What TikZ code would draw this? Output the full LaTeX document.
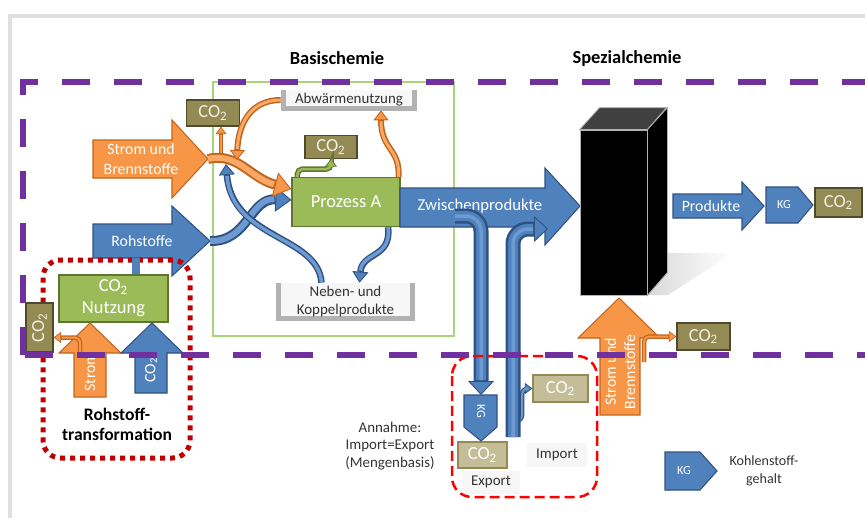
\documentclass[tikz,border=0pt]{standalone}
\usepackage{fontspec}
\setmainfont{Carlito}
\usetikzlibrary{calc,arrows.meta}
\definecolor{cpurple}{HTML}{7030A0}
\definecolor{corange}{HTML}{F79646}
\definecolor{corangeline}{HTML}{C2651C}
\definecolor{corangelight}{HTML}{FAA865}
\definecolor{cblue}{HTML}{4F81BD}
\definecolor{cblueline}{HTML}{2F5282}
\definecolor{cbluelight}{HTML}{6E9AD2}
\definecolor{cgreen}{HTML}{9BBB59}
\definecolor{cgreenline}{HTML}{5F7530}
\definecolor{colive}{HTML}{948A54}
\definecolor{coliveline}{HTML}{4F4A2B}
\definecolor{colivetext}{HTML}{F2F0E4}
\definecolor{cpale}{HTML}{C4BD97}
\definecolor{cframe}{HTML}{A9D47C}
\definecolor{cred}{HTML}{FF0000}
\definecolor{cdred}{HTML}{C00000}
\tikzset{
	lbl/.style={text=white, align=center, inner sep=0pt, font=\fontsize{9}{11}\selectfont},
	note/.style={text=black!80, align=center, inner sep=0pt, font=\fontsize{8.5}{10}\selectfont},
	head/.style={text=black, align=center, inner sep=0pt, font=\bfseries\fontsize{10.5}{12}\selectfont},
	kglbl/.style={text=white, inner sep=0pt, font=\fontsize{7}{8}\selectfont},
	co2box/.style={draw=coliveline, fill=colive, line width=0.7pt, text=colivetext, inner sep=0pt, font=\fontsize{10.5}{12}\selectfont},
	co2pale/.style={co2box, draw=colive, fill=cpale, text=white},
	procbox/.style={draw=cgreenline, fill=cgreen, line width=0.7pt, text=white, align=center, inner sep=0pt, font=\fontsize{10.5}{12.5}\selectfont},
	infobox/.style={fill=gray!7, text=black!80, inner sep=0pt, font=\fontsize{8.5}{10}\selectfont},
	tray/.style={fill=gray!6, text=black!80, align=center, inner sep=0pt, font=\fontsize{8.5}{9.8}\selectfont,
		path picture={\draw[gray!60, line width=0.18cm] (path picture bounding box.north west) |- (path picture bounding box.south east) -- (path picture bounding box.north east);}},
	oarrow/.style={draw=corangeline, fill=corange, line width=0.6pt},
	barrow/.style={draw=cblueline, fill=cblue, line width=0.6pt},
	btube/.style={draw=cblueline, line width=0.2cm, -{Triangle[width=0.5cm,length=0.32cm,line width'=0.5pt,fill=cblue]},
		postaction={draw=cbluelight, line width=0.12cm, shorten >=0.34cm, -}},
	bthin/.style={draw=cblueline, line width=0.13cm, -{Triangle[width=0.32cm,length=0.22cm,line width'=0.5pt,fill=cblue]},
		postaction={draw=cbluelight, line width=0.07cm, shorten >=0.24cm, -}},
	btiny/.style={draw=cblueline, line width=0.09cm, -{Triangle[width=0.22cm,length=0.15cm,line width'=0.4pt,fill=cblue]},
		postaction={draw=cbluelight, line width=0.04cm, shorten >=0.16cm, -}},
	bigtube/.style={draw=cblueline, line width=0.3cm, -{Triangle[width=0.52cm,length=0.28cm,line width'=0.5pt,fill=cblue]},
		postaction={draw=cblue, line width=0.2cm, shorten >=0.3cm, -}, postaction={draw=cbluelight, line width=0.07cm, shorten >=0.3cm, -}},
	otube/.style={draw=corangeline, line width=0.2cm, -{Triangle[width=0.5cm,length=0.34cm,line width'=0.5pt,fill=corange]},
		postaction={draw=corangelight, line width=0.12cm, shorten >=0.36cm, -}},
	othin/.style={draw=corangeline, line width=0.12cm, -{Triangle[width=0.3cm,length=0.2cm,line width'=0.5pt,fill=corange]},
		postaction={draw=corangelight, line width=0.06cm, shorten >=0.22cm, -}},
	otiny/.style={draw=corangeline, line width=0.09cm, -{Triangle[width=0.22cm,length=0.15cm,line width'=0.4pt,fill=corange]},
		postaction={draw=corange, line width=0.04cm, shorten >=0.16cm, -}},
	gtiny/.style={draw=cgreenline, line width=0.11cm, -{Triangle[width=0.24cm,length=0.15cm,line width'=0.4pt,fill=cgreen]},
		postaction={draw=cgreen, line width=0.05cm, shorten >=0.16cm, -}},
	stub/.style={draw=cblue, line width=0.16cm},
	purpledash/.style={line width=0.12cm, color=cpurple, dash pattern=on 0.56cm off 0.48cm}
}

\begin{document}
\begin{tikzpicture}[x=0.02cm, y=-0.02cm]
			%%%%% START %%%%%
			\useasboundingbox (0,0) rectangle (865,518);
			\draw[line width=0.08cm, color=black!12] (10,518) -- (10,16) -- (865,16);
			
			\node[head] (basis) at (337,58) {Basischemie};
			\node[head] (spezial) at (627,58) {Spezialchemie};
			
			%%%%% BASISCHEMIE %%%%%
			\draw[line width=0.05cm, color=cframe] (213,82) rectangle (454,336);
			
			\node[tray, minimum width=2.72cm, minimum height=0.4cm] (abw) at (349,100) {Abwärmenutzung};
			\node[tray, minimum width=2.78cm, minimum height=0.74cm] (neben) at (345.5,301.5) {Neben- und\\Koppelprodukte};
			\node[co2box, minimum width=1.06cm, minimum height=0.52cm] (co2a) at (213,113) {CO\textsubscript{2}};
			\node[co2box, minimum width=1.04cm, minimum height=0.46cm] (co2p) at (331,147) {CO\textsubscript{2}};
			\node[procbox, minimum width=2.16cm, minimum height=0.98cm] (proz) at (346,202) {Prozess A};
			
			\draw[oarrow] (93,140) -- (172,140) -- (172,120) -- (208,159) -- (172,198) -- (172,178) -- (93,178) -- cycle;
			\coordinate (stromtip) at (208,159);
			\node[lbl] (strom) at (141,159) {Strom und\\Brennstoffe};
			
			\draw[barrow] (93,224) -- (172,224) -- (172,206) -- (210,241) -- (172,276) -- (172,258) -- (93,258) -- cycle;
			\coordinate (rohtip) at (210,241);
			\node[lbl] (roh) at (142,241) {Rohstoffe};
			
			\draw[otiny] ($(co2a.south)+(8,26)$) -- ($(co2a.south)+(8,0)$);
			\draw[btube] (rohtip) .. controls (248,242) and (250,198) .. ($(proz.west)+(0,-2)$);
			\draw[otube] (stromtip) .. controls (238,152) and (250,178) .. ($(proz.west)+(0,-13)$);
			\draw[othin] (abw.west) .. controls (248,100) and (238,128) .. (237,160);
			\draw[bthin] ($(neben.north)+(-24,0)$) .. controls (318,235) and (232,240) .. (226,164);
			\draw[bthin] ($(proz.south)+(42,0)$) .. controls (392,258) and (362,252) .. ($(neben.north)+(14,0)$);
			\draw[othin] ($(proz.north east)+(-2,0)$) .. controls (400,148) and (381,150) .. ($(abw.south)+(32,0)$);
			\draw[gtiny, rounded corners=0.1cm] ($(proz.north west)+(6,0)$) |- ($(co2p.south)+(0,10)$) -- (co2p.south);
			
			%%%%% ZWISCHENPRODUKTE %%%%%
			\draw[barrow] (400,188) -- (545,188) -- (545,168) -- (580,206) -- (545,245) -- (545,227) -- (400,227) -- cycle;
			\node[lbl, font=\fontsize{9.5}{11}\selectfont] (zwi) at (480,206) {Zwischenprodukte};
			
			\node[co2pale, minimum width=1.1cm, minimum height=0.54cm] (co2i) at (560.5,388.5) {CO\textsubscript{2}};
			\node[co2pale, minimum width=0.98cm, minimum height=0.52cm] (co2e) at (482.5,455) {CO\textsubscript{2}};
			\node[infobox, minimum width=1.14cm, minimum height=0.46cm] (export) at (491,482) {Export};
			\node[infobox, minimum width=1.2cm, minimum height=0.48cm] (import) at (557,455) {Import};
			
			\coordinate (kgtop) at (481,395);
			\coordinate (zwiout) at (455,216);
			\coordinate (impfoot) at (513,437);
			\coordinate (zwiin) at (548,229);
			\draw[bigtube, rounded corners=0.3cm] (zwiout) -| (kgtop);
			\draw[btiny, rounded corners=0.12cm] (514,421) -- (522,421) |- (co2i.west);
			\draw[bigtube, rounded corners=0.3cm] (impfoot) |- (zwiin);
			
			\draw[barrow] (464,395) -- (497,395) -- (497,427) -- (481,441) -- (464,427) -- cycle;
			\node[kglbl, rotate=-90] (kg2) at (481,411) {KG};
			
			\draw[line width=0.05cm, color=cred, dash pattern=on 0.2cm off 0.1cm, rounded corners=0.4cm] (452,356) rectangle (597,497);
			\node[note] (annahme) at (390,446) {Annahme:\\Import=Export\\(Mengenbasis)};
			
			%%%%% SPEZIALCHEMIE %%%%%
			\shade[left color=gray!30, right color=white] (647,295) -- (667,253) -- (733,253) -- (668,295) -- cycle;
			\node[draw=gray!60, fill=black, line width=0.5pt, minimum width=1.34cm, minimum height=3.3cm, inner sep=0pt] (spez) at (613.5,212.5) {};
			\filldraw[fill=black!75, draw=gray!60, line width=0.5pt] (spez.north west) -- ++(20,-22) -- ++(67,0) -- (spez.north east) -- cycle;
			\filldraw[fill=black, draw=gray!60, line width=0.5pt] (spez.north east) -- ++(20,-22) -- ++(0,165) -- (spez.south east) -- cycle;
			
			\draw[barrow] (673,194) -- (742,194) -- (742,182) -- (764,206) -- (742,230) -- (742,218) -- (673,218) -- cycle;
			\node[lbl] (prod) at (711,206) {Produkte};
			\draw[barrow] (766,187) -- (798,187) -- (813,205) -- (798,223) -- (766,223) -- cycle;
			\node[kglbl] (kg1) at (784,205) {KG};
			\node[co2box, minimum width=0.94cm, minimum height=0.58cm] (co2pr) at (838.5,202.5) {CO\textsubscript{2}};
			
			\draw[oarrow] (600,415) -- (600,338) -- (578,338) -- (619,298) -- (660,338) -- (640,338) -- (640,415) -- cycle;
			\node[lbl, rotate=90] (strom2) at (620,372) {Strom und\\Brennstoffe};
			\node[co2box, minimum width=1.06cm, minimum height=0.54cm] (co2s) at (703.5,336.5) {CO\textsubscript{2}};
			\draw[otiny, rounded corners=0.1cm] (644,362) |- (co2s.west);
			
			\draw[barrow] (665,452) -- (700,452) -- (717,471) -- (700,490) -- (665,490) -- cycle;
			\node[kglbl] (kgleg) at (684,471) {KG};
			\node[note, font=\fontsize{8}{10}\selectfont] (kgtext) at (764,471) {Kohlenstoff-\\gehalt};
			
			%%%%% ROHSTOFFTRANSFORMATION %%%%%
			\draw[line width=0.1cm, color=cdred, dash pattern=on 0.1cm off 0.1cm, rounded corners=0.35cm] (43,260) rectangle (190,458);
			\node[procbox, minimum width=2.18cm, minimum height=0.94cm] (co2n) at (113.5,298.5) {CO\textsubscript{2}\\Nutzung};
			\coordinate (rohfoot) at (136,258);
			\draw[stub] (rohfoot) -- (rohfoot |- co2n.north);
			
			\node[co2box, rotate=90, minimum width=0.98cm, minimum height=0.54cm] (co2l) at (39.5,327.5) {CO\textsubscript{2}};
			\draw[oarrow] (74,397) -- (74,353) -- (59,353) -- (90,323) -- (121,353) -- (106,353) -- (106,397) -- cycle;
			\node[lbl, rotate=90] (stromk) at (90,372) {Strom};
			\draw[barrow] (135,393) -- (135,353) -- (121,353) -- (152,323) -- (183,353) -- (167,353) -- (167,393) -- cycle;
			\node[lbl, rotate=90] (co2k) at (151,370) {CO\textsubscript{2}};
			\draw[otiny, rounded corners=0.1cm] (80,352) |- ($(co2l.south)+(0,10)$);
			\node[head, font=\bfseries\fontsize{10}{11.5}\selectfont] (rohtrans) at (117,424) {Rohstoff-\\transformation};
			
			%%%%% SYSTEMGRENZE %%%%%
			\draw[purpledash] (23,355) -- (23,82) -- (870,82);
			\draw[purpledash] (25,355) -- (870,355);
			%%%%% END %%%%%
\end{tikzpicture}
\end{document}
